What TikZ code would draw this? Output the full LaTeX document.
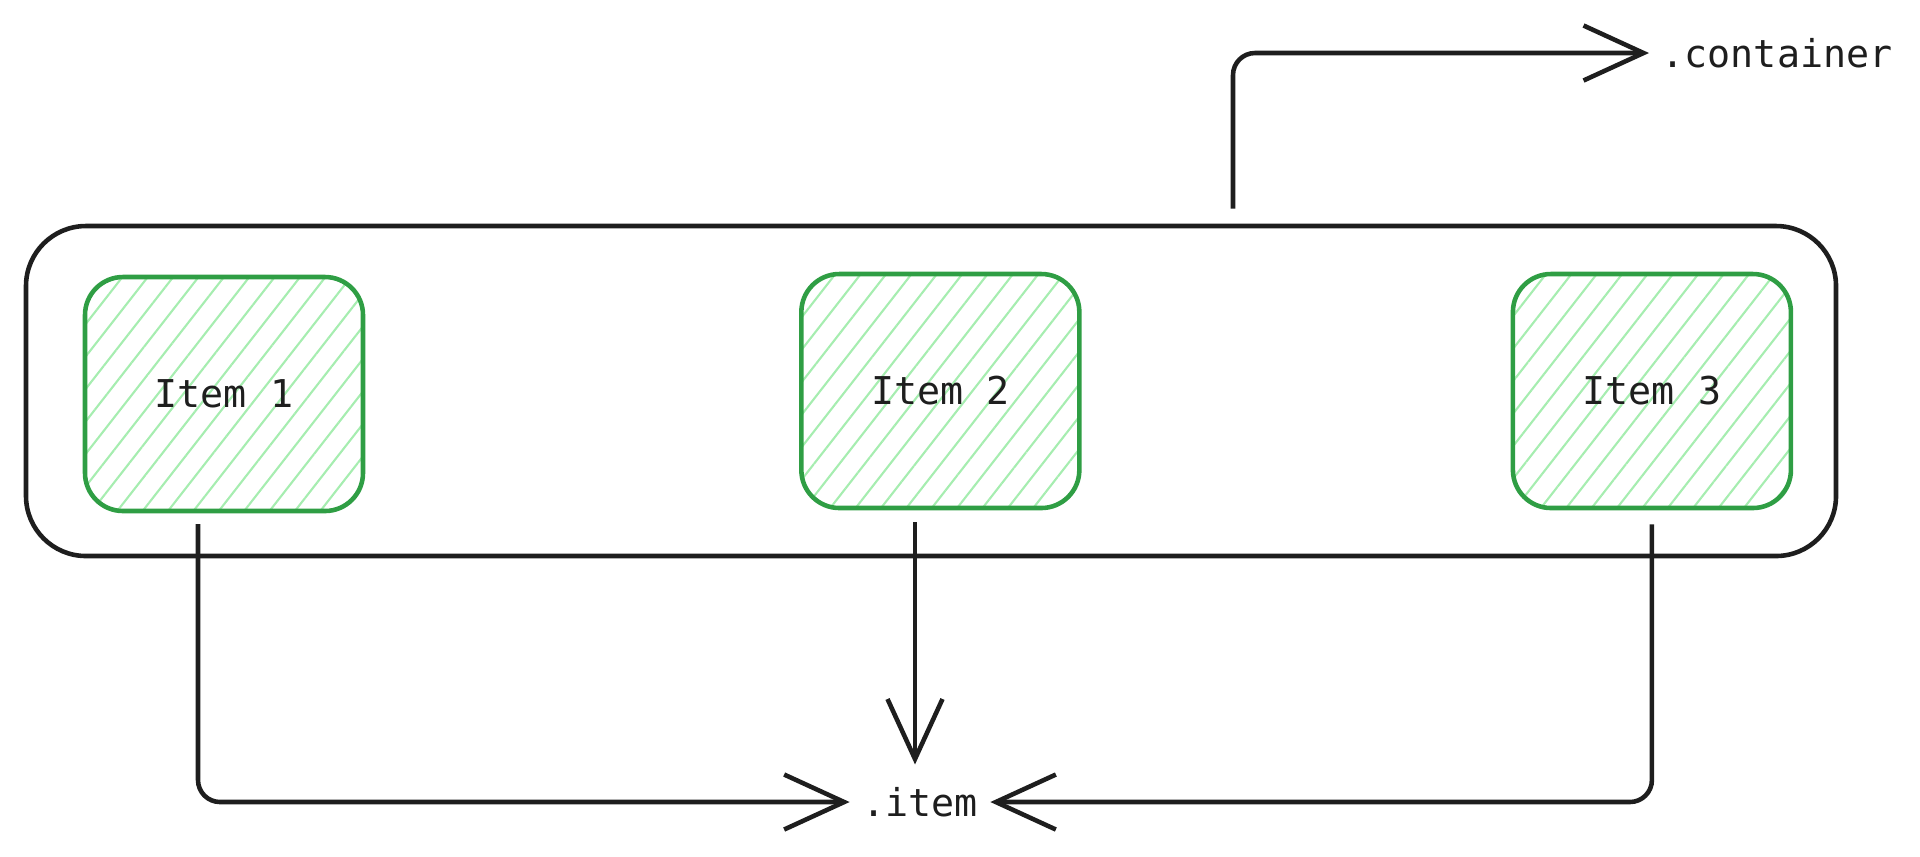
\documentclass[tikz,border=0pt]{standalone}
\usepackage{xcolor}
\usepackage{fontspec}
\newfontfamily\codefont{DejaVu Sans Mono}
\usepackage{tikz}
\usetikzlibrary{arrows.meta,positioning,patterns.meta}
\definecolor{itemgreen}{HTML}{2F9E44}
\definecolor{hatchgreen}{HTML}{A6EDB0}
\definecolor{inkblack}{HTML}{1E1E1E}

\begin{document}
\begin{tikzpicture}[node distance=1.5cm, auto, font=\codefont\fontsize{10.9pt}{13pt}\selectfont]
    % Define styles
    \tikzstyle{outerbox} = [rectangle, rounded corners=0.6cm, minimum width=18.1cm, minimum height=3.3cm, draw=inkblack, line width=1.3pt]
    \tikzstyle{itembox} = [rectangle, rounded corners=0.38cm, minimum width=2.78cm, minimum height=2.34cm, text centered, draw=itemgreen, line width=1.3pt, pattern={Lines[angle=52,distance=0.2cm,line width=0.6pt]}, pattern color=hatchgreen, text=inkblack]
    \tikzstyle{codetext} = [inner sep=0.12cm, text=inkblack]
    \tikzstyle{conn} = [draw=inkblack, line width=1.3pt, rounded corners=0.22cm, -{Straight Barb[length=0.6cm, width=0.55cm, line width=1.3pt]}]

    \useasboundingbox (0,0) rectangle (19.2,-8.56);

    % Nodes
    \node[outerbox] (box) at (9.31,-3.91) {};
    \node[itembox] (item1) at (2.24,-3.94) {Item 1};
    \node[itembox, right=4.35cm of item1, yshift=0.03cm] (item2) {Item 2};
    \node[itembox, right=4.29cm of item2] (item3) {Item 3};
    \node[codetext] (itemlbl) at (9.2,-8.02) {.item};
    \node[codetext, anchor=west] (contlbl) at (16.49,-0.53) {.container};

    % Connections
    \draw[conn] ([xshift=3.02cm, yshift=0.15cm]box.north) |- (contlbl.west);
    \draw[conn] ([xshift=-0.26cm, yshift=-0.12cm]item1.south) |- (itemlbl.west);
    \draw[conn, shorten <=0.12cm, shorten >=0.1cm] ([xshift=-0.05cm]item2.south -| itemlbl.north) -- ([xshift=-0.05cm]itemlbl.north);
    \draw[conn] ([yshift=-0.14cm]item3.south) |- (itemlbl.east);
\end{tikzpicture}
\end{document}
